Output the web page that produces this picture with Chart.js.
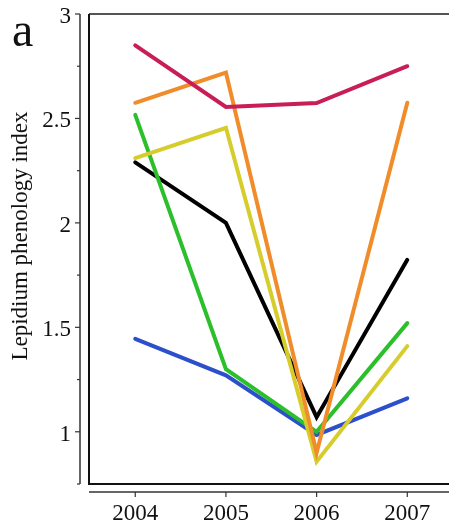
<!DOCTYPE html>
<html>
<head>
<meta charset="utf-8">
<script src="https://cdn.jsdelivr.net/npm/chart.js@4.4.1/dist/chart.umd.min.js"></script>
<style>
  html, body { margin: 0; padding: 0; background: #fff; }
  #wrap { width: 449px; height: 524px; position: relative; }
</style>
</head>
<body>
<div id="wrap"><canvas id="chart"></canvas></div>
<script>
// Data
const years = [2004, 2005, 2006, 2007];
const crimsonSeries = [2.85, 2.555, 2.574, 2.75];
const orangeSeries = [2.575, 2.72, 0.9, 2.575];
const yellowSeries = [2.31, 2.455, 0.857, 1.41];
const greenSeries = [2.517, 1.30, 1.0, 1.52];
const blackSeries = [2.29, 2.0, 1.07, 1.823];
const blueSeries = [1.445, 1.27, 0.985, 1.16];
const yMajorTicks = [1, 1.5, 2, 2.5, 3];
const yMinorTicks = [0.75, 1.25, 1.75, 2.25, 2.75];
const yTitle = 'Lepidium phenology index';
const panelLetter = 'a';

const serif = "'Liberation Serif', 'DejaVu Serif', serif";

function toPoints(values) {
    return years.map((yr, i) => ({ x: yr, y: values[i] }));
}

function lineSet(label, values, color) {
    return {
        label: label,
        data: toPoints(values),
        borderColor: color,
        backgroundColor: color,
        borderWidth: 4,
        pointRadius: 0,
        tension: 0,
        borderCapStyle: 'round'
    };
}

// Axes are drawn detached from the plot box, like the original figure
const frameAndAxes = {
    id: 'frameAndAxes',
    afterDraw(chart) {
        const ctx = chart.ctx;
        const area = chart.chartArea;
        const xs = chart.scales.x;
        const ys = chart.scales.y;
        ctx.save();

        // plot box
        ctx.strokeStyle = '#555';
        ctx.lineWidth = 2;
        ctx.beginPath();
        ctx.moveTo(area.left, area.top);
        ctx.lineTo(area.right, area.top);
        ctx.stroke();
        ctx.strokeStyle = '#111';
        ctx.beginPath();
        ctx.moveTo(area.left, area.top);
        ctx.lineTo(area.left, area.bottom);
        ctx.lineTo(area.right, area.bottom);
        ctx.stroke();

        // y axis line and ticks
        const yAxisX = area.left - 9;
        ctx.strokeStyle = '#333';
        ctx.lineWidth = 1.5;
        ctx.beginPath();
        ctx.moveTo(yAxisX, ys.getPixelForValue(3));
        ctx.lineTo(yAxisX, ys.getPixelForValue(0.75));
        ctx.stroke();
        ctx.lineWidth = 1.2;
        yMajorTicks.forEach(v => {
            const py = ys.getPixelForValue(v);
            ctx.beginPath();
            ctx.moveTo(yAxisX - 5, py);
            ctx.lineTo(yAxisX, py);
            ctx.stroke();
        });
        yMinorTicks.forEach(v => {
            const py = ys.getPixelForValue(v);
            ctx.beginPath();
            ctx.moveTo(yAxisX - 3, py);
            ctx.lineTo(yAxisX, py);
            ctx.stroke();
        });

        // x axis line and ticks
        const xAxisY = area.bottom + 8;
        ctx.lineWidth = 1.5;
        ctx.beginPath();
        ctx.moveTo(area.left, xAxisY);
        ctx.lineTo(area.right, xAxisY);
        ctx.stroke();
        ctx.lineWidth = 1.2;
        years.forEach(yr => {
            const px = xs.getPixelForValue(yr);
            ctx.beginPath();
            ctx.moveTo(px, xAxisY);
            ctx.lineTo(px, xAxisY + 5);
            ctx.stroke();
        });

        // y title
        ctx.fillStyle = '#111';
        ctx.font = '23px ' + serif;
        ctx.textAlign = 'center';
        ctx.textBaseline = 'middle';
        ctx.translate(21, 236);
        ctx.rotate(-Math.PI / 2);
        ctx.fillText(yTitle, 0, 0);
        ctx.restore();

        // panel letter
        ctx.save();
        ctx.fillStyle = '#111';
        ctx.font = '48px ' + serif;
        ctx.textAlign = 'left';
        ctx.textBaseline = 'alphabetic';
        ctx.fillText(panelLetter, 12, 46);
        ctx.restore();
    }
};

new Chart(document.getElementById('chart'), {
    type: 'line',
    data: {
        datasets: [
            lineSet('crimson', crimsonSeries, '#c81d57'),
            lineSet('orange', orangeSeries, '#f08c2a'),
            lineSet('yellow', yellowSeries, '#d6cd2c'),
            lineSet('green', greenSeries, '#2cbf2c'),
            lineSet('black', blackSeries, '#000000'),
            lineSet('blue', blueSeries, '#2c4fcc')
        ]
    },
    options: {
        responsive: true,
        maintainAspectRatio: false,
        animation: false,
        layout: { padding: { top: 14, right: 0, left: 0, bottom: 0 } },
        plugins: {
            legend: { display: false },
            tooltip: { enabled: false }
        },
        scales: {
            x: {
                type: 'linear',
                min: 2003.49,
                max: 2007.46,
                grid: { display: false, drawTicks: false },
                border: { display: false },
                afterFit(scale) {
                    scale.height = 40;
                    scale.paddingLeft = 0;
                    scale.paddingRight = 0;
                },
                afterBuildTicks(scale) {
                    scale.ticks = years.map(v => ({ value: v }));
                },
                ticks: {
                    color: '#111',
                    font: { family: serif, size: 23 },
                    padding: 16,
                    maxRotation: 0,
                    callback: v => String(v)
                }
            },
            y: {
                min: 0.75,
                max: 3,
                grid: { display: false, drawTicks: false },
                border: { display: false },
                afterFit(scale) {
                    scale.width = 89;
                    scale.paddingTop = 0;
                    scale.paddingBottom = 0;
                },
                afterBuildTicks(scale) {
                    scale.ticks = yMajorTicks.map(v => ({ value: v }));
                },
                ticks: {
                    color: '#111',
                    font: { family: serif, size: 23 },
                    padding: 18,
                    labelOffset: 3,
                    callback: v => String(v)
                }
            }
        }
    },
    plugins: [frameAndAxes]
});
</script>
</body>
</html>
